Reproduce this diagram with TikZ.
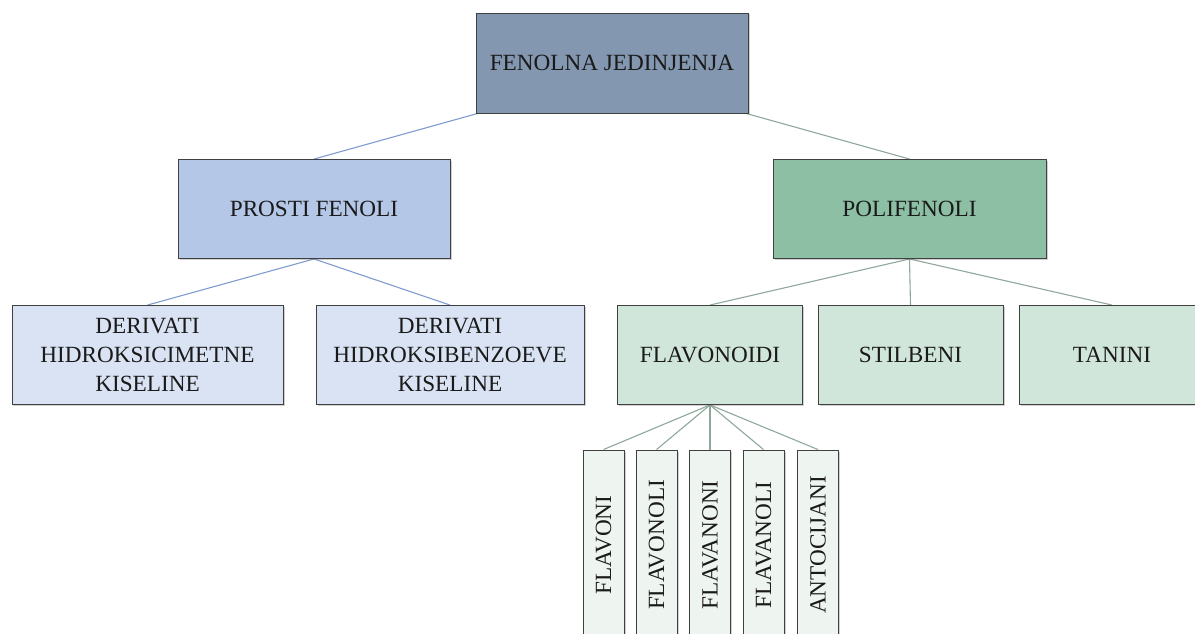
\documentclass[tikz,border=0pt]{standalone}
\usepackage{fontspec}
\setmainfont{Liberation Serif}
\usetikzlibrary{backgrounds,shadows}
\definecolor{topfill}{HTML}{8497B0}
\definecolor{bluefill}{HTML}{B4C7E7}
\definecolor{lightblue}{HTML}{DAE3F3}
\definecolor{greenfill}{HTML}{8CBFA4}
\definecolor{lightgreen}{HTML}{D1E6DB}
\definecolor{palegreen}{HTML}{EEF5F1}
\definecolor{boxline}{HTML}{404040}
\definecolor{txt}{HTML}{1A1A1A}
\definecolor{blueline}{HTML}{7F9CD0}
\definecolor{greenline}{HTML}{8FA89B}
\tikzset{
  box/.style={draw=boxline, line width=0.9bp, inner sep=0pt, align=center,
    text=txt, font=\fontsize{23.3}{29}\selectfont,
    drop shadow={shadow xshift=1.5bp, shadow yshift=-1.5bp, opacity=0.3, fill=black!60}},
  vbox/.style={box, minimum width=41bp, minimum height=190bp, fill=palegreen},
  conblue/.style={draw=blueline, line width=1.1bp},
  congreen/.style={draw=greenline, line width=1.1bp},
}
\begin{document}
\begin{tikzpicture}[x=1bp,y=-1bp]
\useasboundingbox (0,0) rectangle (1195,634);
\clip (0,0) rectangle (1195,634);

\node[box, fill=topfill, minimum width=272bp, minimum height=100bp] (top) at (612,63) {FENOLNA JEDINJENJA};
\node[box, fill=bluefill, minimum width=272bp, minimum height=99bp] (prosti) at (314,209) {PROSTI FENOLI};
\node[box, fill=greenfill, minimum width=273bp, minimum height=99bp] (poli) at (909.5,209) {POLIFENOLI};

\node[box, fill=lightblue, minimum width=271bp, minimum height=99bp] (d1) at (147.5,355) {DERIVATI\\HIDROKSICIMETNE\\KISELINE};
\node[box, fill=lightblue, minimum width=268bp, minimum height=99bp] (d2) at (450,355) {DERIVATI\\HIDROKSIBENZOEVE\\KISELINE};

\node[box, fill=lightgreen, minimum width=185bp, minimum height=99bp] (flav) at (710,355) {FLAVONOIDI};
\node[box, fill=lightgreen, minimum width=185bp, minimum height=99bp] (stil) at (910.5,355) {STILBENI};
\node[box, fill=lightgreen, minimum width=185bp, minimum height=99bp] (tan) at (1112,355) {TANINI};

\node[vbox] (v1) at (603.5,545) {\rotatebox{90}{FLAVONI}};
\node[vbox] (v2) at (656.5,545) {\rotatebox{90}{FLAVONOLI}};
\node[vbox] (v3) at (710,545) {\rotatebox{90}{FLAVANONI}};
\node[vbox] (v4) at (763.5,545) {\rotatebox{90}{FLAVANOLI}};
\node[vbox] (v5) at (818,545) {\rotatebox{90}{ANTOCIJANI}};

\coordinate (topc) at ([yshift=-13bp]top.center);
\begin{pgfonlayer}{background}
\fill[white] (0,0) rectangle (1195,634);
\draw[conblue] (topc) -- (prosti.north);
\draw[congreen] (topc) -- (poli.north);
\draw[conblue] (prosti.south) -- (d1.north);
\draw[conblue] (prosti.south) -- (d2.north);
\draw[congreen] (poli.south) -- (flav.north);
\draw[congreen] (poli.south) -- (stil.north);
\draw[congreen] (poli.south) -- (tan.north);
\foreach \v in {v1,v2,v3,v4,v5}
  \draw[congreen] (flav.south) -- (\v.north);
\end{pgfonlayer}
\end{tikzpicture}
\end{document}
